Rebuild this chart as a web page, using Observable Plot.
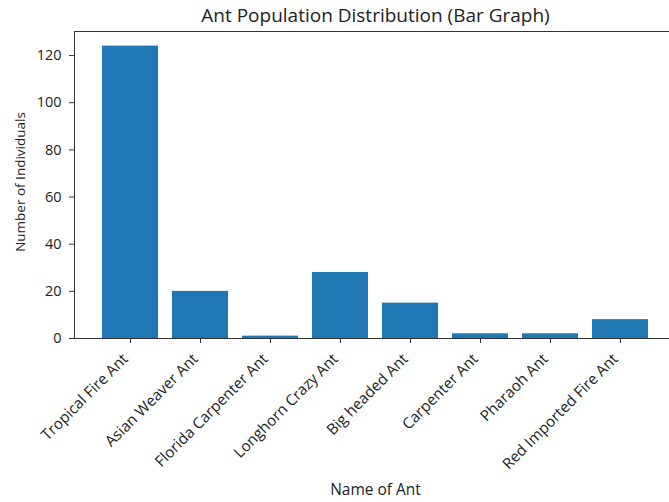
<!DOCTYPE html>
<html><head><meta charset="utf-8">
<script src="https://cdn.jsdelivr.net/npm/d3@7"></script>
<script src="https://cdn.jsdelivr.net/npm/@observablehq/plot@0.6"></script>
<style>
html,body{margin:0;padding:0;background:#fff;overflow:hidden;}
body{width:669px;height:502px;}
</style></head><body>
<div id="chart"></div>
<script>
const ants = ["Tropical Fire Ant","Asian Weaver Ant","Florida Carpenter Ant","Longhorn Crazy Ant","Big headed Ant","Carpenter Ant","Pharaoh Ant","Red Imported Fire Ant"];
const counts = [124, 20, 1, 28, 15, 2, 2, 8];
const yTicks = [0, 20, 40, 60, 80, 100, 120];
const titleText = "Ant Population Distribution (Bar Graph)";
const xLabel = "Name of Ant";
const yLabel = "Number of Individuals";

const data = ants.map((name, i) => ({name, count: counts[i]}));
const font = "Open Sans";
const ink = "#222";

const plot = Plot.plot({
  width: 669, height: 502,
  marginTop: 31, marginBottom: 164, marginLeft: 74, marginRight: -7,
  style: {fontFamily: font, fontSize: "14.5px", color: ink, background: "white"},
  x: {domain: ants, paddingInner: 0.2, paddingOuter: 0.39, align: 0.5, label: null},
  y: {domain: [0, 130.2], label: null},
  marks: [
    Plot.barY(data, {x: "name", y: "count", fill: "#1f77b4"}),
    Plot.frame({stroke: "#333", strokeWidth: 1}),
    Plot.axisY({ticks: yTicks, tickSize: 5, tickPadding: 8, label: null, stroke: "#333", fill: ink, fontSize: 14.5}),
    Plot.axisX({tickSize: 5, tickFormat: () => "", label: null, stroke: "#333"}),
    Plot.text(ants, {x: d => d, frameAnchor: "bottom", rotate: -45, textAnchor: "end", lineAnchor: "middle", dx: -5, dy: 18, fontSize: 15.2, fill: ink}),
    Plot.text([yLabel], {frameAnchor: "left", rotate: -90, textAnchor: "middle", lineAnchor: "middle", dx: -54, dy: -3, fontSize: 13.5, fill: ink}),
    Plot.text([xLabel], {frameAnchor: "bottom", textAnchor: "middle", lineAnchor: "middle", dy: 152, fontSize: 15.5, fill: ink}),
    Plot.text([titleText], {frameAnchor: "top", textAnchor: "middle", lineAnchor: "middle", dy: -15.5, fontSize: 19, fill: ink})
  ]
});
document.getElementById("chart").appendChild(plot);
</script>
</body></html>
